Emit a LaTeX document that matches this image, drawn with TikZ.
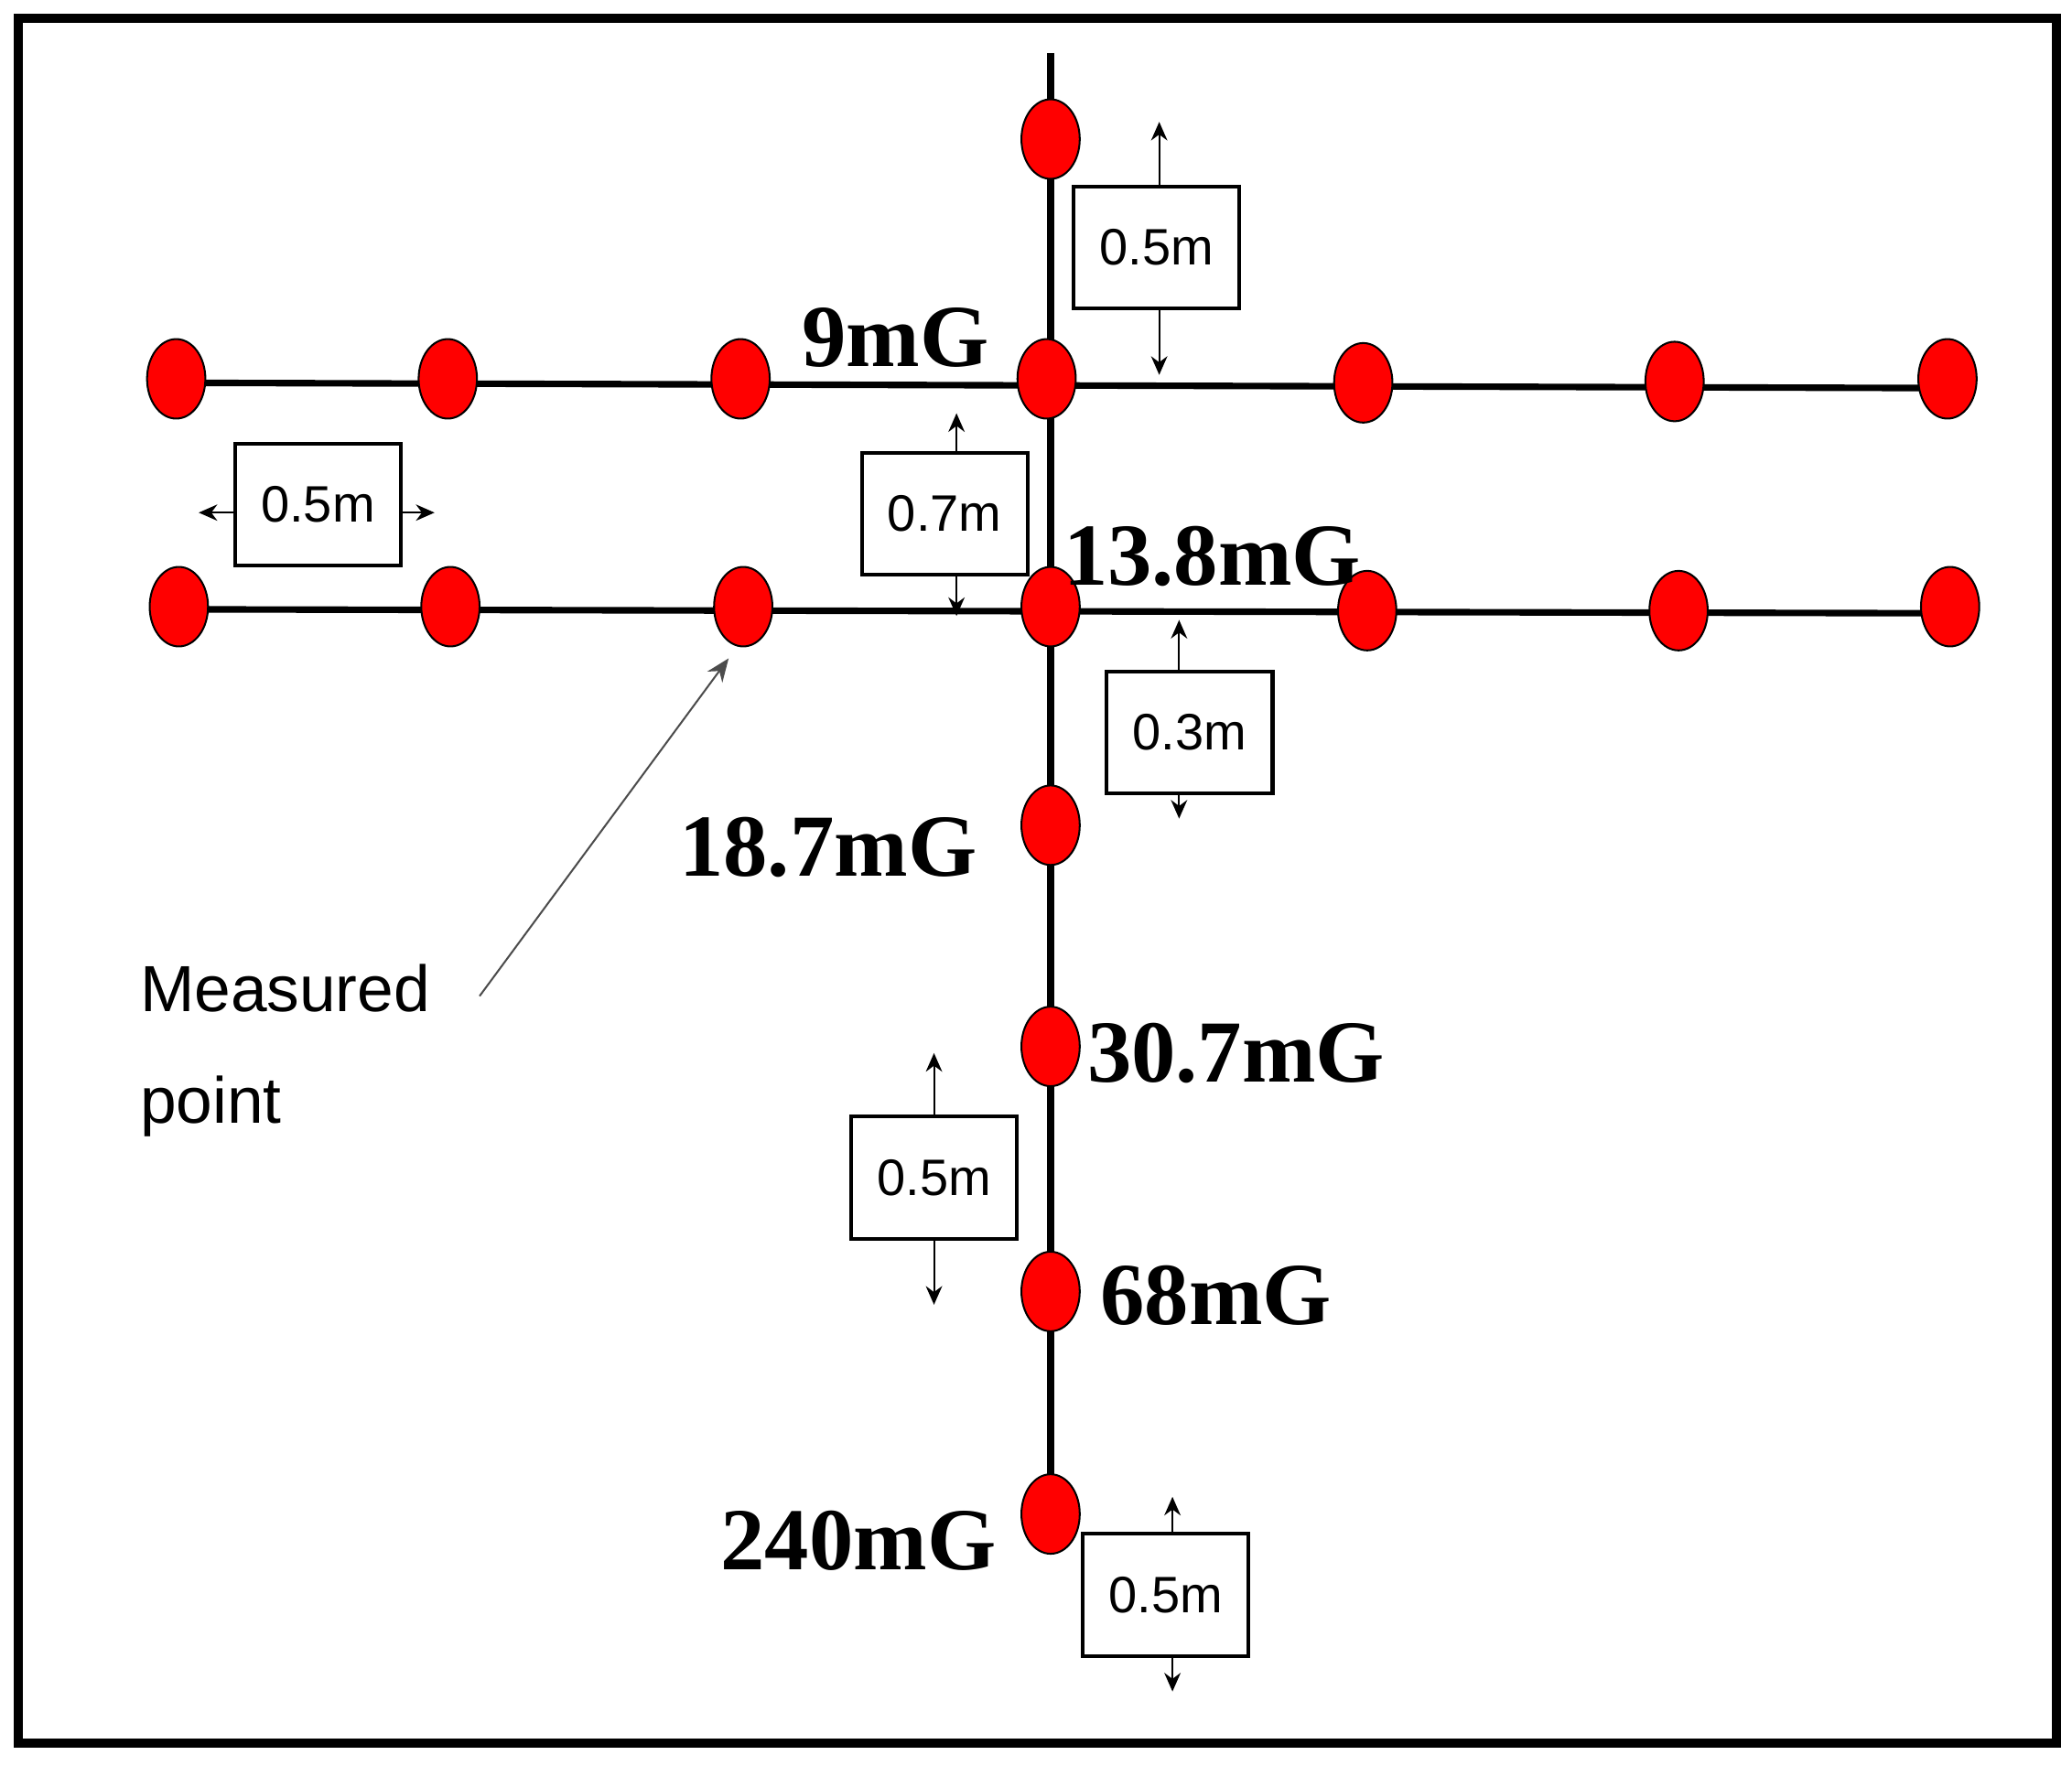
\documentclass[tikz,border=0pt]{standalone}
\usepackage{fontspec}
\setmainfont{Liberation Serif}
\setsansfont{Liberation Sans}
\usetikzlibrary{arrows.meta,shapes.geometric}
\begin{document}
\begin{tikzpicture}[x=0.01cm,y=-0.01cm,
  dot/.style={ellipse,draw=black,thin,fill=red,minimum width=0.44cm,minimum height=0.6cm,inner sep=0},
  val/.style={font=\fontsize{19}{20}\selectfont\bfseries},
  dimbox/.style={draw=black,thick,fill=white,minimum width=1.25cm,minimum height=0.92cm,inner sep=0,font=\sffamily\fontsize{11}{12}\selectfont},
  dimarr/.style={-{Stealth[length=4pt,width=3.5pt]},thin},
  wire/.style={line width=1.4pt}]
\useasboundingbox (0,0) rectangle (1564,1333);
\draw[line width=2pt] (14,14) rectangle (1552,1316);
% wires
\coordinate (vt) at (793,40); \coordinate (vb) at (793,1170);
\draw[wire] (vt) -- (vb);
\coordinate (h1l) at (133,289); \coordinate (h1r) at (1470,293);
\coordinate (h2l) at (135,460); \coordinate (h2r) at (1472,463);
\draw[wire] (h1l) -- (h1r);
\draw[wire] (h2l) -- (h2r);
% dots
\foreach \x/\y [count=\i] in {133/286,338/286,559/286,790/286,1029/289,1264/288,1470/286}
  \node[dot] (a\i) at (\x,\y) {};
\foreach \x/\y [count=\i] in {135/458,340/458,561/458,793/458,1032/461,1267/461,1472/458}
  \node[dot] (b\i) at (\x,\y) {};
\foreach \y [count=\i] in {105,623,790,975,1143}
  \node[dot] (c\i) at (793,\y) {};
% labels
\node[val] (l1) at (676,255) {9mG};
\node[val] (l2) at (915,420) {13.8mG};
\node[val] (l3) at (625,640) {18.7mG};
\node[val] (l4) at (933,795) {30.7mG};
\node[val] (l5) at (918,978) {68mG};
\node[val] (l6) at (648,1163) {240mG};
% dimension boxes
\node[dimbox] (d1) at (873,187) {0.5m};
\draw[dimarr] (d1.north -| 875,0) -- (875,92);
\draw[dimarr] (d1.south -| 875,0) -- (875,283);
\node[dimbox] (d2) at (240,381) {0.5m};
\draw[dimarr] (d2.west |- 0,387) -- (150,387);
\draw[dimarr] (d2.east |- 0,387) -- (328,387);
\node[dimbox] (d3) at (713,388) {0.7m};
\draw[dimarr] (d3.north -| 722,0) -- (722,312);
\draw[dimarr] (d3.south -| 722,0) -- (722,465);
\node[dimbox] (d4) at (898,553) {0.3m};
\draw[dimarr] (d4.north -| 890,0) -- (890,468);
\draw[dimarr] (d4.south -| 890,0) -- (890,618);
\node[dimbox] (d5) at (705,889) {0.5m};
\draw[dimarr] (d5.north) -- (705,795);
\draw[dimarr] (d5.south) -- (705,985);
\node[dimbox] (d6) at (880,1204) {0.5m};
\draw[dimarr] (d6.north -| 885,0) -- (885,1130);
\draw[dimarr] (d6.south -| 885,0) -- (885,1277);
% measured point
\node[font=\sffamily\fontsize{14}{24}\selectfont, align=left, anchor=west, inner sep=0] (mp) at (105,793) {Measured\\point};
\draw[-{Stealth[length=5pt,width=4pt]}, thin, black!70] (362,752) -- (550,497);
\end{tikzpicture}
\end{document}
